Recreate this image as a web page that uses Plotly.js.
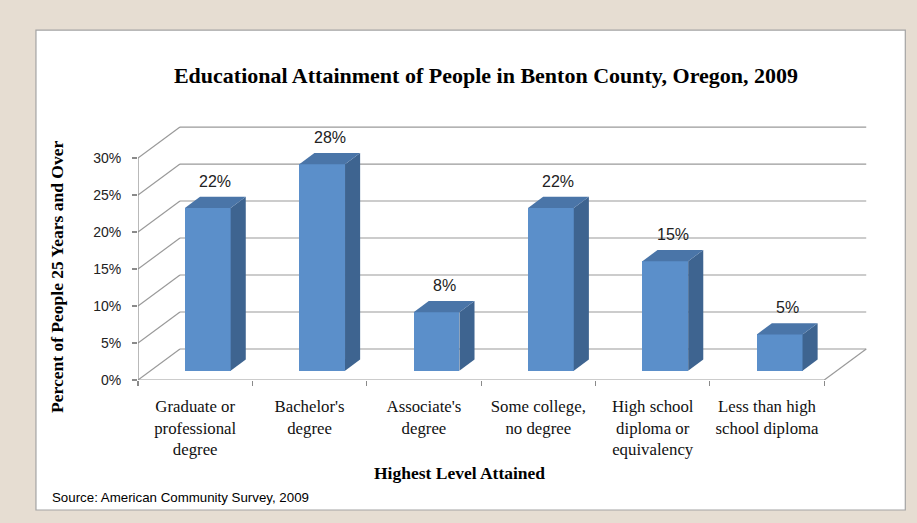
<!DOCTYPE html>
<html>
<head>
<meta charset="utf-8">
<script src="https://cdn.plot.ly/plotly-3.0.1.min.js"></script>
<style>html,body{margin:0;padding:0;background:#e6ddd2;}#chart{width:917px;height:523px;}</style>
</head>
<body>
<div id="chart"></div>
<script>
// ---- data ----
const categories = ["Graduate or<br>professional<br>degree", "Bachelor's<br>degree", "Associate's<br>degree", "Some college,<br>no degree", "High school<br>diploma or<br>equivalency", "Less than high<br>school diploma"];
const values = [22.0, 27.9, 7.9, 22.0, 14.8, 4.9];
const yTicks = [0, 5, 10, 15, 20, 25, 30];
const yTickLabels = ["0%", "5%", "10%", "15%", "20%", "25%", "30%"];
const chartTitle = "Educational Attainment of People in Benton County, Oregon, 2009";
const yTitle = "Percent of People 25 Years and Over";
const xTitle = "Highest Level Attained";
const sourceNote = "Source: American Community Survey, 2009";

// ---- geometry / style ----
const W = 917, H = 523;
const L = 138, PXX = 114.33, PXY = 7.4;
const xRange = [-0.5, 5.9], yRange = [0, 34.6];
const plotW = (xRange[1] - xRange[0]) * PXX;
const plotH = (yRange[1] - yRange[0]) * PXY;
const B = 143, T = H - B - plotH, R = W - L - plotW;
const Dx = 0.367, Dy = 4.19;       // full depth vector (data units)
const dF = 0.30, dB = 0.66;        // bar depth (front/back fractions)
const barW = 0.40;
const cFront = '#5b8fca', cSide = '#3e6490', cTop = '#4a75a8';
const gridC = '#9a9a9a';
const px = x => (x - L) / plotW;
const py = y => (H - B - y) / plotH;

const n = categories.length;
const idx = categories.map((_, i) => i);

// frame lines as shapes (below traces)
const shapes = [];
shapes.push({type: 'rect', xref: 'paper', yref: 'paper', layer: 'below',
  x0: px(36), x1: px(905), y0: py(30), y1: py(510),
  fillcolor: '#ffffff', line: {color: '#a3a3a3', width: 1.2}});
const xL = -0.5, xR = n - 0.5;
yTicks.forEach(t => {
  shapes.push({type: 'line', xref: 'x', yref: 'y', layer: 'below', x0: xL + Dx, x1: xR + Dx, y0: t + Dy, y1: t + Dy, line: {color: gridC, width: 1.2}});
  shapes.push({type: 'line', xref: 'x', yref: 'y', layer: 'below', x0: xL, x1: xL + Dx, y0: t, y1: t + Dy, line: {color: gridC, width: 1.2}});
});
shapes.push({type: 'line', xref: 'x', yref: 'y', layer: 'below', x0: xL, x1: xL, y0: 0, y1: yTicks[yTicks.length - 1], line: {color: '#8a8a8a', width: 1.2}});
shapes.push({type: 'line', xref: 'x', yref: 'y', layer: 'below', x0: xL, x1: xR, y0: 0, y1: 0, line: {color: '#9a9a9a', width: 1.2}});
shapes.push({type: 'line', xref: 'x', yref: 'y', layer: 'below', x0: xR, x1: xR + Dx, y0: 0, y1: Dy, line: {color: gridC, width: 1.2}});

// bars
const traces = [];
const fx = idx.map(i => i + dF * Dx);
const fb = idx.map(() => dF * Dy);
traces.push({type: 'bar', x: fx, y: values, base: fb, width: barW,
  marker: {color: cFront, line: {width: 0}}, hoverinfo: 'skip', showlegend: false});
const dd = dB - dF;
idx.forEach(i => {
  const xl = fx[i] - barW / 2, xr = fx[i] + barW / 2;
  const yb = fb[i], yt = fb[i] + values[i];
  traces.push({type: 'scatter', mode: 'lines', fill: 'toself', fillcolor: cSide, line: {width: 0, color: cSide},
    x: [xr, xr, xr + dd * Dx, xr + dd * Dx, xr], y: [yb, yt, yt + dd * Dy, yb + dd * Dy, yb],
    hoverinfo: 'skip', showlegend: false});
  traces.push({type: 'scatter', mode: 'lines', fill: 'toself', fillcolor: cTop, line: {width: 0, color: cTop},
    x: [xl, xr, xr + dd * Dx, xl + dd * Dx, xl], y: [yt, yt, yt + dd * Dy, yt + dd * Dy, yt],
    hoverinfo: 'skip', showlegend: false});
});
// invisible trace for boundary ticks axis
traces.push({type: 'scatter', x: [xL, xR], y: [0, 0], xaxis: 'x2', mode: 'markers', marker: {opacity: 0}, hoverinfo: 'skip', showlegend: false});

const annotations = idx.map(i => ({
  x: fx[i] + dd * Dx / 2, y: fb[i] + values[i] + dd * Dy / 2, xref: 'x', yref: 'y',
  xanchor: 'center', yanchor: 'middle',
  text: Math.round(values[i]) + '%', showarrow: false, yshift: 21,
  font: {family: 'Liberation Sans, Arial, sans-serif', size: 16, color: '#222'}
}));
annotations.push({xref: 'paper', yref: 'paper', x: px(57), y: py(277), xanchor: 'center', yanchor: 'middle', textangle: -90, showarrow: false,
  text: '<b>' + yTitle + '</b>', font: {family: 'Liberation Serif, serif', size: 17.5, color: '#000'}});
annotations.push({xref: 'paper', yref: 'paper', x: px(459), y: py(473), xanchor: 'center', yanchor: 'middle', showarrow: false,
  text: '<b>' + xTitle + '</b>', font: {family: 'Liberation Serif, serif', size: 17.5, color: '#000'}});
annotations.push({xref: 'paper', yref: 'paper', x: px(50), y: py(498), xanchor: 'left', yanchor: 'middle', showarrow: false,
  text: sourceNote, font: {family: 'Liberation Sans, Arial, sans-serif', size: 13.3, color: '#000'}});

const layout = {
  width: W, height: H,
  margin: {l: L, r: R, t: T, b: B, pad: 0},
  paper_bgcolor: '#e6ddd2', plot_bgcolor: 'rgba(0,0,0,0)',
  title: {text: '<b>' + chartTitle + '</b>', x: 486 / W, xanchor: 'center', y: 1 - 75 / H, yanchor: 'middle',
    font: {family: 'Liberation Serif, serif', size: 22, color: '#000'}},
  xaxis: {range: xRange, tickvals: idx, ticktext: categories, showgrid: false, zeroline: false, showline: false,
    ticks: '', ticklabelstandoff: 14, tickfont: {family: 'Liberation Serif, serif', size: 16.8, color: '#111'}, fixedrange: true},
  xaxis2: {range: xRange, overlaying: 'x', anchor: 'y', side: 'bottom', tickvals: idx.map(i => i - 0.5).concat([xR]),
    showticklabels: false, ticks: 'outside', ticklen: 5, tickcolor: '#8a8a8a', tickwidth: 1.2, showgrid: false, zeroline: false, showline: false},
  yaxis: {range: yRange, tickvals: yTicks, ticktext: yTickLabels, showgrid: false, zeroline: false, showline: false,
    ticks: 'outside', ticklen: 5, tickcolor: '#8a8a8a', tickwidth: 1.2, ticklabelstandoff: 8,
    tickfont: {family: 'Liberation Sans, Arial, sans-serif', size: 14, color: '#222'}, fixedrange: true},
  shapes: shapes, annotations: annotations, showlegend: false, bargap: 0
};
Plotly.newPlot('chart', traces, layout, {displayModeBar: false, staticPlot: true});
</script>
</body>
</html>
